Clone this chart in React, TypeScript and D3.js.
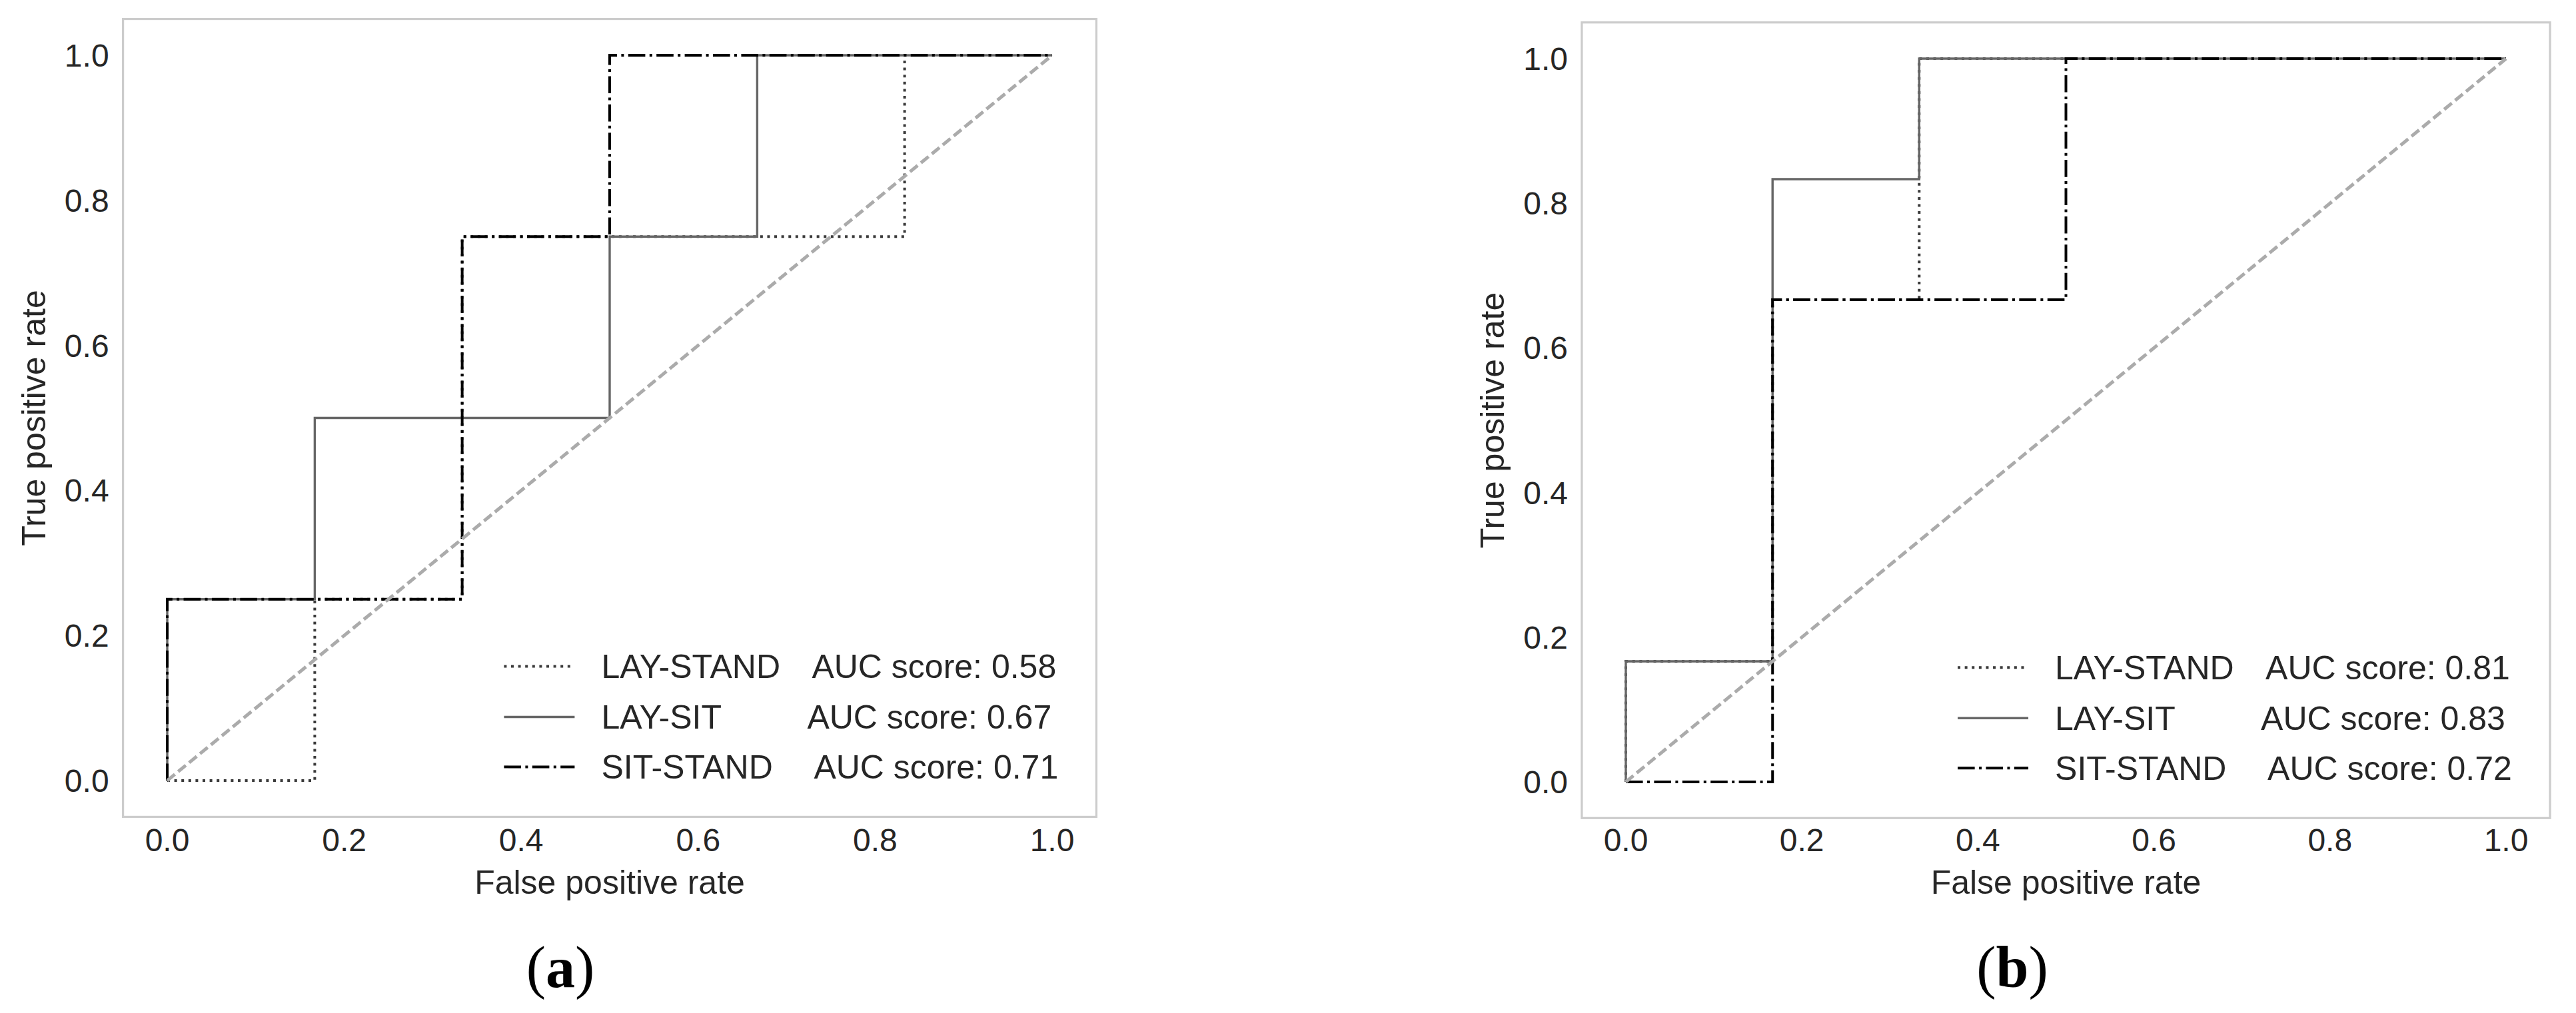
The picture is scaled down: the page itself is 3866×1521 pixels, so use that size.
import React from "react";
import * as d3 from "d3";

// ---------- data ----------
const tickValues = [0, 0.2, 0.4, 0.6, 0.8, 1.0];
const seriesNames = ["LAY-STAND", "LAY-SIT", "SIT-STAND"];

// Panel (a)
const aLayStandFpr = [0, 0.1667, 0.1667, 0.3333, 0.3333, 0.8333, 0.8333, 1];
const aLayStandTpr = [0, 0, 0.25, 0.25, 0.75, 0.75, 1, 1];
const aLaySitFpr = [0, 0, 0.1667, 0.1667, 0.5, 0.5, 0.6667, 0.6667, 1];
const aLaySitTpr = [0, 0.25, 0.25, 0.5, 0.5, 0.75, 0.75, 1, 1];
const aSitStandFpr = [0, 0, 0.3333, 0.3333, 0.5, 0.5, 1];
const aSitStandTpr = [0, 0.25, 0.25, 0.75, 0.75, 1, 1];
const aAuc = ["0.58", "0.67", "0.71"];

// Panel (b)
const bLayStandFpr = [0, 0, 0.1667, 0.1667, 0.3333, 0.3333, 1];
const bLayStandTpr = [0, 0.1667, 0.1667, 0.6667, 0.6667, 1, 1];
const bLaySitFpr = [0, 0, 0.1667, 0.1667, 0.3333, 0.3333, 1];
const bLaySitTpr = [0, 0.1667, 0.1667, 0.8333, 0.8333, 1, 1];
const bSitStandFpr = [0, 0.1667, 0.1667, 0.5, 0.5, 1];
const bSitStandTpr = [0, 0, 0.6667, 0.6667, 1, 1];
const bAuc = ["0.81", "0.83", "0.72"];

const diagonal = [0, 1];

// ---------- styles ----------
const LW = 4;
const styles = [
  { color: "#3a3a3a", dash: `${1 * LW},${1.65 * LW}`, width: LW }, // dotted
  { color: "#666666", dash: "none", width: LW * 0.85 }, // solid
  { color: "#000000", dash: `${6.4 * LW},${1.6 * LW},${1 * LW},${1.6 * LW}`, width: LW }, // dash-dot
];
const FONT = "'Liberation Sans', Arial, 'DejaVu Sans', sans-serif";
const TEXT = "#262626";

type PanelProps = {
  x0: number; x1: number; y0: number; y1: number; // pixel positions for data 0 and 1
  series: { fpr: number[]; tpr: number[] }[];
  auc: string[];
  caption: string;
  captionX: number;
};

function Panel({ x0, x1, y0, y1, series, auc, caption, captionX }: PanelProps) {
  const x = d3.scaleLinear().domain([0, 1]).range([x0, x1]);
  const y = d3.scaleLinear().domain([0, 1]).range([y0, y1]);
  const fL = x(-0.05), fR = x(1.05), fT = y(1.05), fB = y(-0.05);
  const line = d3.line<[number, number]>().x((d) => x(d[0])).y((d) => y(d[1]));
  const aucOffsets = [427, 434, 424];
  const rowOffsets = [226, 150, 75];
  return (
    <g>
      {/* frame */}
      <rect x={fL} y={fT} width={fR - fL} height={fB - fT} fill="white" stroke="#cccccc" strokeWidth={3.2} />
      {/* series */}
      {series.map((s, i) => (
        <path
          key={i}
          d={line(s.fpr.map((v, k) => [v, s.tpr[k]] as [number, number])) || ""}
          fill="none"
          stroke={styles[i].color}
          strokeWidth={styles[i].width}
          strokeDasharray={styles[i].dash}
          strokeLinecap="butt"
          strokeLinejoin="miter"
        />
      ))}
      {/* diagonal */}
      <path
        d={line(diagonal.map((v) => [v, v] as [number, number])) || ""}
        fill="none"
        stroke="#ababab"
        strokeWidth={5}
        strokeDasharray={`${3.7 * LW},${1.6 * LW}`}
      />
      {/* x ticks */}
      {tickValues.map((t) => (
        <text key={"x" + t} x={x(t)} y={1278} textAnchor="middle" fontFamily={FONT} fontSize={48} fill={TEXT}>
          {t.toFixed(1)}
        </text>
      ))}
      {/* y ticks */}
      {tickValues.map((t) => (
        <text key={"y" + t} x={fL - 21} y={y(t) + 17} textAnchor="end" fontFamily={FONT} fontSize={48} fill={TEXT}>
          {t.toFixed(1)}
        </text>
      ))}
      {/* axis labels */}
      <text x={(x0 + x1) / 2} y={1342} textAnchor="middle" fontFamily={FONT} fontSize={50} fill={TEXT}>
        False positive rate
      </text>
      <text
        transform={`translate(${fL - 117},${(y0 + y1) / 2}) rotate(-90)`}
        textAnchor="middle"
        fontFamily={FONT}
        fontSize={50}
        fill={TEXT}
      >
        True positive rate
      </text>
      {/* legend */}
      {seriesNames.map((name, i) => {
        const ly = fB - rowOffsets[i];
        return (
          <g key={name}>
            <line
              x1={fR - 889}
              x2={fR - 783}
              y1={ly}
              y2={ly}
              stroke={styles[i].color}
              strokeWidth={styles[i].width}
              strokeDasharray={styles[i].dash}
            />
            <text x={fR - 743} y={ly + 18} fontFamily={FONT} fontSize={50} fill={TEXT}>
              {name}
            </text>
            <text x={fR - aucOffsets[i]} y={ly + 18} fontFamily={FONT} fontSize={50} fill={TEXT}>
              {"AUC score: " + auc[i]}
            </text>
          </g>
        );
      })}
      {/* caption */}
      <text x={captionX} y={1482} textAnchor="middle" fontFamily="'Liberation Serif', 'Times New Roman', serif" fontSize={88} fill="#000">
        (<tspan fontWeight="bold">{caption}</tspan>)
      </text>
    </g>
  );
}

export default function App() {
  return (
    <div style={{ position: "absolute", left: 0, top: 0 }}>
      <svg width={3866} height={1521} viewBox="0 0 3866 1521" style={{ display: "block", background: "white" }}>
        <rect x={0} y={0} width={3866} height={1521} fill="white" />
        <Panel
          x0={251}
          x1={1579}
          y0={1172}
          y1={83}
          series={[
            { fpr: aLayStandFpr, tpr: aLayStandTpr },
            { fpr: aLaySitFpr, tpr: aLaySitTpr },
            { fpr: aSitStandFpr, tpr: aSitStandTpr },
          ]}
          auc={aAuc}
          caption="a"
          captionX={841}
        />
        <Panel
          x0={2440}
          x1={3761}
          y0={1174}
          y1={88}
          series={[
            { fpr: bLayStandFpr, tpr: bLayStandTpr },
            { fpr: bLaySitFpr, tpr: bLaySitTpr },
            { fpr: bSitStandFpr, tpr: bSitStandTpr },
          ]}
          auc={bAuc}
          caption="b"
          captionX={3020}
        />
      </svg>
    </div>
  );
}
